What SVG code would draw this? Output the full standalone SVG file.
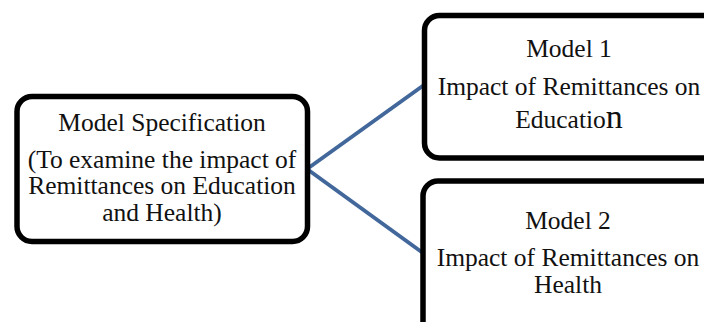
<svg xmlns="http://www.w3.org/2000/svg" width="704" height="322" viewBox="0 0 704 322">
<style>
.box{fill:#fff;stroke:#000;stroke-width:5.5}
.t{font-family:"Liberation Serif","Times New Roman",serif;font-size:25.5px;fill:#111;text-anchor:middle}
.c{stroke:#42679b;stroke-width:4;fill:none}
</style>
<rect width="704" height="322" fill="#fff"/>
<g id="connectors">
<line class="c" x1="307" y1="169" x2="424" y2="85"/>
<line class="c" x1="307" y1="169" x2="423" y2="253"/>
</g>
<g id="spec">
<rect class="box" x="17" y="96.5" width="290.5" height="145" rx="15"/>
<text class="t" x="162" y="131">Model Specification</text>
<text class="t" x="162" y="167.5">(To examine the impact of</text>
<text class="t" x="162" y="194">Remittances on Education</text>
<text class="t" x="162" y="220.5">and Health)</text>
</g>
<g id="model1">
<rect class="box" x="424.5" y="15.5" width="300" height="142.5" rx="15"/>
<text class="t" x="569" y="57">Model 1</text>
<text class="t" x="569" y="95">Impact of Remittances on</text>
<text class="t" x="569" y="128">Educatio<tspan style="font-size:34px">n</tspan></text>
</g>
<g id="model2">
<rect class="box" x="423" y="181" width="300" height="160" rx="15"/>
<text class="t" x="568" y="229">Model 2</text>
<text class="t" x="568" y="266">Impact of Remittances on</text>
<text class="t" x="568" y="293">Health</text>
</g>
</svg>
